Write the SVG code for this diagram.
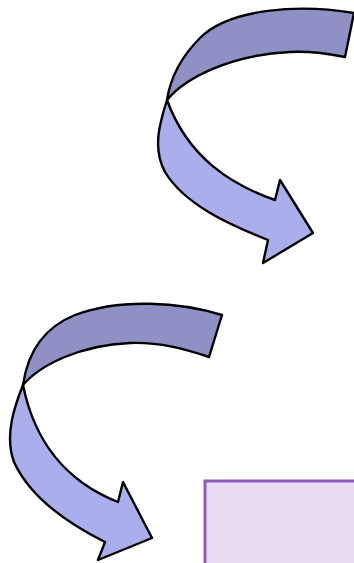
<svg xmlns="http://www.w3.org/2000/svg" width="354" height="563" viewBox="0 0 354 563">
<style>
.light{fill:#abaeed;stroke:#000;stroke-width:2.4;stroke-linejoin:round}
.dark{fill:#8f90c4;stroke:#000;stroke-width:2.4;stroke-linejoin:round}
.box{fill:#e8dbf3;stroke:#8e58bf;stroke-width:3}
</style>
<rect width="354" height="563" fill="#fff"/>
<g id="arrow1">
<path class="light" d="M167,100 C160,122 152,148 165,172 C185,205 230,225 268,240 L263,263 L313,233 L280,180 L275,200 C232,185 188,158 167,100 Z"/>
<path class="dark" d="M354,13 C300,4 230,8 200,38 C180,58 170,80 167,100 C185,78 230,55 290,52 C310,51 330,54 345,57 Z"/>
</g>
<g id="arrow2">
<path class="light" d="M23,385 C15,405 4,435 14,462 C30,497 65,522 105,542 L98,560 L152,538 L123,482 L118,502 C80,487 37,455 23,385 Z"/>
<path class="dark" d="M222,315 C180,302 120,298 75,315 C45,327 28,350 23,385 C40,365 80,345 130,343 C160,342 185,349 209,357 Z"/>
</g>
<g id="box">
<rect class="box" x="205" y="481" width="160" height="100"/>
</g>
</svg>
